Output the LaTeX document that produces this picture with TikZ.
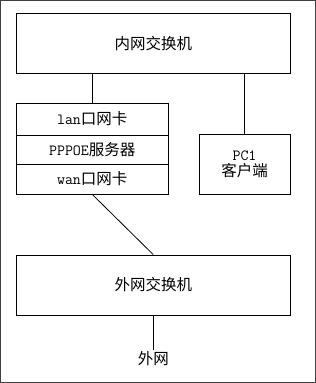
\documentclass[tikz,border=0pt]{standalone}
\usepackage{fontspec}
\setmainfont{Noto Sans CJK SC}
\newfontfamily\latinmono{Latin Modern Mono}
\newcommand{\lm}[1]{{\latinmono #1}}
\begin{document}
\begin{tikzpicture}[x=1pt,y=-1pt,
  box/.style={draw=black, line width=0.8pt, inner sep=0pt, minimum width=#1, font=\fontsize{15.5}{18}\selectfont},
  wire/.style={draw=black, line width=0.8pt},
  lbl/.style={inner sep=2pt, font=\fontsize{15.5}{18}\selectfont}]
\useasboundingbox (0,0) rectangle (316,383);
\draw[draw=black!75, line width=1pt] (0.5,0.5) rectangle (315.5,382.5);

\node[box=273.5pt, minimum height=59.5pt] (top) at (153.25,43.25) {内网交换机};
\node[box=151.5pt, minimum height=32pt] (lan) at (92.25,119) {\lm{lan}口网卡};
\node[box=151.5pt, minimum height=29pt] (ppp) at (92.25,149.5) {\lm{PPPOE}服务器};
\node[box=151.5pt, minimum height=30pt] (wan) at (92.25,179) {\lm{wan}口网卡};
\node[box=91pt, minimum height=60pt, align=center] (pc) at (244.5,164) {\lm{PC1}\\[-2pt]客户端};
\node[box=273.5pt, minimum height=60pt] (bot) at (153.25,285) {外网交换机};
\node[lbl] (ext) at (153.25,359) {外网};

\draw[wire] (lan.north) -- (lan.north |- top.south);
\draw[wire] (pc.north) -- (pc.north |- top.south);
\draw[wire] (wan.south) -- (bot.north);
\draw[wire] (bot.south) -- (ext.north);
\end{tikzpicture}
\end{document}
